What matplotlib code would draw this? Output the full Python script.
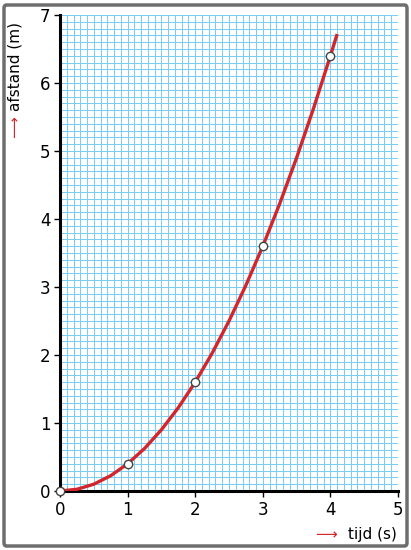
import matplotlib.pyplot as plt
from matplotlib.patches import FancyBboxPatch
from matplotlib.ticker import MultipleLocator

# meetpunten (tijd in s, afstand in m)
tijd = [0, 1, 2, 3, 4]
afstand = [0, 0.4, 1.6, 3.6, 6.4]

kromme_t = [0, 0.25, 0.5, 0.75, 1.0, 1.25, 1.5, 1.75, 2.0, 2.25, 2.5, 2.75,
            3.0, 3.25, 3.5, 3.75, 4.0, 4.1]
kromme_s = [0, 0.025, 0.1, 0.225, 0.4, 0.625, 0.9, 1.225, 1.6, 2.025, 2.5, 3.025,
            3.6, 4.225, 4.9, 5.625, 6.4, 6.72]

x_ticks = [0, 1, 2, 3, 4, 5]
y_ticks = [0, 1, 2, 3, 4, 5, 6, 7]

W, H = 411, 550
fig = plt.figure(figsize=(W / 100, H / 100), dpi=100)
ax = fig.add_axes([60 / W, 1 - 491 / H, 338 / W, 476 / H])

ax.set_xlim(0, 5)
ax.set_ylim(0, 7)
ax.xaxis.set_minor_locator(MultipleLocator(0.1))
ax.yaxis.set_minor_locator(MultipleLocator(0.1))
ax.set_xticks(x_ticks)
ax.set_yticks(y_ticks)
ax.grid(which="both", color="#7ccdf2", linewidth=0.75)
ax.set_axisbelow(True)
ax.tick_params(which="minor", length=0)
ax.tick_params(which="major", length=4, width=1, labelsize=12, pad=3)

for kant in ["top", "right"]:
    ax.spines[kant].set_visible(False)
for kant in ["left", "bottom"]:
    ax.spines[kant].set_linewidth(2.2)

ax.plot(kromme_t, kromme_s, color="#d3262c", linewidth=2.4, solid_capstyle="butt", zorder=3)
ax.plot(tijd, afstand, "o", markersize=6, markerfacecolor="white",
        markeredgecolor="#444444", markeredgewidth=1, zorder=4, clip_on=False)

# aslabels met rode pijl
fig.text(15 / W, 1 - 138 / H, "⟶", color="#d3262c", fontsize=11, rotation=90,
         ha="center", va="bottom")
fig.text(15 / W, 1 - 22 / H, "afstand (m)", fontsize=11, rotation=90,
         ha="center", va="top")
fig.text(397 / W, 1 - 535 / H, "tijd (s)", fontsize=11, ha="right", va="center")
fig.text(337 / W, 1 - 535 / H, "⟶", color="#d3262c", fontsize=11, ha="right", va="center")

# kader om de figuur
kader = FancyBboxPatch((4 / W, 4 / H), 403 / W, 541 / H, boxstyle="round,pad=0,rounding_size=0.006",
                       transform=fig.transFigure, fill=False, edgecolor="#6e6e6e", linewidth=2.5)
fig.patches.append(kader)

fig.savefig("out.png", dpi=100)
